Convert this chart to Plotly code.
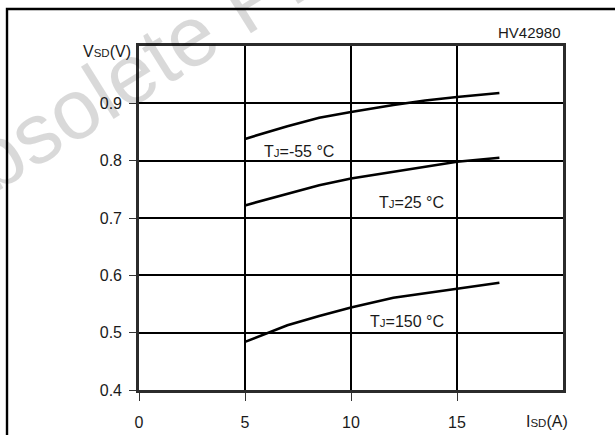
import plotly.graph_objects as go

# Data
i_sd = [5, 7, 8.5, 10, 12, 13.5, 15, 17]
v_tj_m55 = [0.838, 0.860, 0.875, 0.885, 0.897, 0.905, 0.911, 0.918]
v_tj_25 = [0.722, 0.742, 0.757, 0.769, 0.781, 0.790, 0.798, 0.805]
v_tj_150 = [0.484, 0.513, 0.529, 0.544, 0.561, 0.569, 0.577, 0.587]

x_ticks = [0, 5, 10, 15]
x_tick_labels = ["0", "5", "10", "15"]
y_ticks = [0.4, 0.5, 0.6, 0.7, 0.8, 0.9]
y_tick_labels = ["0.4", "0.5", "0.6", "0.7", "0.8", "0.9"]

FONT = "Liberation Sans, Arial, Helvetica, sans-serif"
SMALL = "<span style='font-size:11.5px'>{}</span>"

fig = go.Figure()
for ys in (v_tj_m55, v_tj_25, v_tj_150):
    fig.add_trace(go.Scatter(x=i_sd, y=ys, mode="lines",
                             line=dict(color="black", width=2.6),
                             showlegend=False, hoverinfo="skip"))

fig.update_layout(
    width=615, height=435,
    margin=dict(l=139, r=52, t=46, b=45),
    paper_bgcolor="white", plot_bgcolor="white",
    font=dict(family=FONT, size=16, color="#1a1a1a"),
    showlegend=False,
)
fig.update_xaxes(range=[0, 20], tickvals=x_ticks, ticktext=x_tick_labels,
                 showgrid=True, gridcolor="black", gridwidth=1.5,
                 showline=True, linecolor="#2b2b2b", linewidth=2.6, mirror=True,
                 ticks="outside", ticklen=8, tickwidth=1.2, tickcolor="#333",
                 ticklabelstandoff=8, zeroline=False, automargin=False)
fig.update_yaxes(range=[0.4, 1.0], tickvals=y_ticks, ticktext=y_tick_labels,
                 showgrid=True, gridcolor="black", gridwidth=1.5,
                 showline=True, linecolor="#2b2b2b", linewidth=2.6, mirror=True,
                 ticks="outside", ticklen=7, tickwidth=1.2, tickcolor="#333",
                 ticklabelstandoff=4, zeroline=False, automargin=False)

# Outer frame
fig.add_shape(type="rect", xref="paper", yref="paper",
              x0=-0.3113, y0=-0.2, x1=1.2, y1=1.1076,
              line=dict(color="black", width=2.4), layer="above")

anns = [
    dict(text="T" + SMALL.format("J") + "=-55 °C", x=7.55, y=0.816, xref="x", yref="y"),
    dict(text="T" + SMALL.format("J") + "=25 °C", x=12.86, y=0.727, xref="x", yref="y"),
    dict(text="T" + SMALL.format("J") + "=150 °C", x=12.63, y=0.5196, xref="x", yref="y"),
]
for a in anns:
    fig.add_annotation(showarrow=False, xanchor="center", yanchor="middle",
                       font=dict(size=16, family=FONT, color="#1a1a1a"), **a)

fig.add_annotation(text="V" + SMALL.format("SD") + "(V)", xref="paper", yref="paper",
                   x=-0.014, y=0.9826, xanchor="right", yanchor="middle",
                   showarrow=False, font=dict(size=16, family=FONT, color="#1a1a1a"))
fig.add_annotation(text="I" + SMALL.format("SD") + "(A)", xref="paper", yref="paper",
                   x=0.9634, y=-0.092, xanchor="center", yanchor="middle",
                   showarrow=False, font=dict(size=16, family=FONT, color="#1a1a1a"))
fig.add_annotation(text="HV42980", xref="paper", yref="paper",
                   x=1.0, y=1.0378, xanchor="right", yanchor="middle",
                   showarrow=False, font=dict(size=15, family=FONT, color="#1a1a1a"))

# Watermark
fig.add_annotation(text="Obsolete Product(s)", xref="paper", yref="paper",
                   x=(241 - 139) / 424, y=(390 - 4) / 344,
                   xanchor="center", yanchor="middle", textangle=-32,
                   showarrow=False,
                   font=dict(size=85, family=FONT, color="rgba(0,0,0,0.15)"))

fig.write_html("out.html", config={"displayModeBar": False},
               post_script="document.body.style.margin='0';")
